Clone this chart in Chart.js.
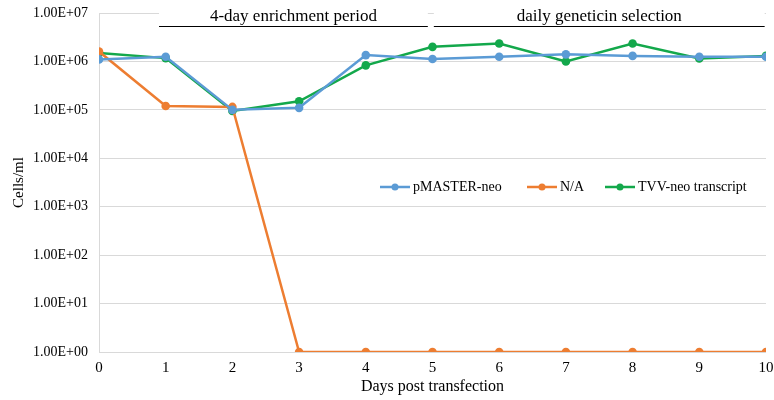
<!DOCTYPE html>
<html>
<head>
<meta charset="utf-8">
<script src="https://cdn.jsdelivr.net/npm/chart.js@4"></script>
<style>
    body { margin: 0; background: #fff; }
</style>
</head>
<body>
<canvas id="cells-chart" width="774" height="400"></canvas>
<script>
const days = [0, 1, 2, 3, 4, 5, 6, 7, 8, 9, 10];
const pmasterNeo = [1.1e6, 1.25e6, 1.0e5, 1.1e5, 1.35e6, 1.12e6, 1.25e6, 1.4e6, 1.3e6, 1.25e6, 1.25e6];
const notApplicable = [1.6e6, 1.2e5, 1.15e5, 1, 1, 1, 1, 1, 1, 1, 1];
const tvvNeo = [1.5e6, 1.17e6, 9.5e4, 1.5e5, 8.3e5, 2.0e6, 2.35e6, 1.0e6, 2.35e6, 1.15e6, 1.3e6];
const yTicks = [1, 1e1, 1e2, 1e3, 1e4, 1e5, 1e6, 1e7];
const periods = [
    { label: "4-day enrichment period", from: 0.9, to: 4.93 },
    { label: "daily geneticin selection", from: 5.02, to: 9.98 },
];

const FONT = "'Liberation Serif', 'Times New Roman', serif";

function toPoints(values) {
    return days.map((d, i) => ({ x: d, y: values[i] }));
}

// period brackets above the plot
const periodPlugin = {
    id: "periods",
    afterDraw(chart) {
        const ctx = chart.ctx;
        const x = chart.scales.x;
        ctx.save();
        periods.forEach((p) => {
            const x1 = x.getPixelForValue(p.from);
            const x2 = x.getPixelForValue(p.to);
            ctx.fillStyle = "#fff";
            ctx.fillRect(x1, 4, x2 - x1, 22);
            ctx.strokeStyle = "#000";
            ctx.lineWidth = 1;
            ctx.beginPath();
            ctx.moveTo(x1, 26.5);
            ctx.lineTo(x2, 26.5);
            ctx.stroke();
            ctx.fillStyle = "#000";
            ctx.font = "17px " + FONT;
            ctx.textAlign = "center";
            ctx.textBaseline = "middle";
            ctx.fillText(p.label, (x1 + x2) / 2, 17);
        });
        ctx.restore();
    },
};

// legend drawn inside the plot area
const innerLegend = {
    id: "innerLegend",
    afterDraw(chart) {
        const ctx = chart.ctx;
        const starts = [380, 527, 605];
        const y = 187;
        ctx.save();
        ctx.font = "14px " + FONT;
        ctx.textBaseline = "middle";
        chart.data.datasets.forEach((ds, i) => {
            const x0 = starts[i];
            ctx.strokeStyle = ds.borderColor;
            ctx.lineWidth = 2.5;
            ctx.beginPath();
            ctx.moveTo(x0, y);
            ctx.lineTo(x0 + 30, y);
            ctx.stroke();
            ctx.fillStyle = ds.borderColor;
            ctx.beginPath();
            ctx.arc(x0 + 15, y, 3.5, 0, Math.PI * 2);
            ctx.fill();
            ctx.fillStyle = "#000";
            ctx.fillText(ds.label, x0 + 33, y);
        });
        ctx.restore();
    },
};

function makeSeries(label, values, color) {
    return {
        label: label,
        data: toPoints(values),
        borderColor: color,
        backgroundColor: color,
        borderWidth: 2.5,
        pointRadius: 4.3,
        pointBorderWidth: 0,
        pointHoverRadius: 4.3,
        tension: 0,
    };
}

new Chart(document.getElementById("cells-chart"), {
    type: "line",
    data: {
        datasets: [
            makeSeries("pMASTER-neo", pmasterNeo, "#5B9BD5"),
            makeSeries("N/A", notApplicable, "#ED7D31"),
            makeSeries("TVV-neo transcript", tvvNeo, "#13A84B"),
        ],
    },
    options: {
        responsive: false,
        animation: false,
        devicePixelRatio: 1,
        layout: {
            padding: { top: 13, right: 0, left: 0, bottom: 0 },
        },
        scales: {
            x: {
                type: "linear",
                min: 0,
                max: 10,
                afterFit: (scale) => {
                    scale.height = 48;
                    scale.paddingLeft = 0;
                    scale.paddingRight = 8;
                },
                grid: { display: false, drawTicks: false },
                border: { display: false },
                ticks: {
                    stepSize: 1,
                    autoSkip: false,
                    maxRotation: 0,
                    color: "#000",
                    padding: 7,
                    font: { family: FONT, size: 15 },
                },
                title: {
                    display: true,
                    text: "Days post transfection",
                    color: "#000",
                    padding: { top: 3 },
                    font: { family: FONT, size: 16 },
                },
            },
            y: {
                type: "logarithmic",
                min: 1,
                max: 1e7,
                afterBuildTicks: (scale) => {
                    scale.ticks = yTicks.map((v) => ({ value: v }));
                },
                afterFit: (scale) => {
                    scale.width = 99;
                    scale.paddingTop = 0;
                    scale.paddingBottom = 0;
                },
                grid: { color: "#D9D9D9", lineWidth: 1, drawTicks: false },
                border: { color: "#D9D9D9" },
                ticks: {
                    autoSkip: false,
                    color: "#000",
                    padding: 11,
                    font: { family: FONT, size: 14 },
                    callback: function (value) {
                        const exp = Math.round(Math.log10(value));
                        return "1.00E+" + String(exp).padStart(2, "0");
                    },
                },
                title: {
                    display: true,
                    text: "Cells/ml",
                    color: "#000",
                    padding: { top: 10, bottom: 0 },
                    font: { family: FONT, size: 15 },
                },
            },
        },
        plugins: {
            legend: { display: false },
            tooltip: { enabled: false },
        },
    },
    plugins: [periodPlugin, innerLegend],
});
</script>
</body>
</html>
